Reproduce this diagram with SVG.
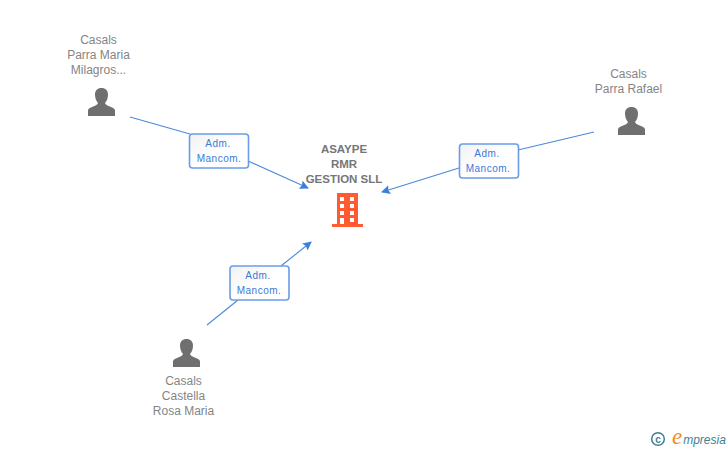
<svg xmlns="http://www.w3.org/2000/svg" width="728" height="450" viewBox="0 0 728 450">
<style>
text{font-family:"Liberation Sans",Arial,sans-serif;text-anchor:middle}
.n{font-size:12px;fill:#858585}
.t{font-size:11.500px;fill:#767676;font-weight:bold}
.l{font-size:10px;fill:#3a7ad8;letter-spacing:.5px}
.c{fill:none;stroke:#4a88e0;stroke-width:1.100}
.b{fill:url(#g);stroke:#6a9de6;stroke-width:1.600}
.p{fill:#6f6f6f}
</style>
<defs>
<linearGradient id="g" x1="0" y1="0" x2="1" y2="1"><stop offset="0" stop-color="#f1f1f1"/><stop offset=".5" stop-color="#fff"/></linearGradient>
<marker id="a" markerUnits="userSpaceOnUse" markerWidth="12" markerHeight="12" refX="8" refY="4.500" orient="auto"><path d="M0 0L9 4.500L0 9L1.500 4.500Z" fill="#3a7fe0"/></marker>
<path id="u" d="M-13.500 14V8.500C-13.500 5-4.500 4.500-3.500 1C-5.500-1-6.500-4.500-6.500-7.500C-6.500-11.500-4-14 0-14C4-14 6.500-11.500 6.500-7.500C6.500-4.500 5.500-1 3.500 1C4.500 4.500 13.500 5 13.500 8.500V14Z"/>
</defs>
<g id="connectors">
<path class="c" d="M130 117L190 134M248 161L308 188" marker-end="url(#a)"/>
<path class="c" d="M594 132L518 150M459 168L382 192" marker-end="url(#a)"/>
<path class="c" d="M207 325L238 300M281 266L311 242" marker-end="url(#a)"/>
</g>
<g id="node-parra-maria"><text class="n" x="98.500" y="44">Casals</text><text class="n" x="98.500" y="59">Parra Maria</text><text class="n" x="98.500" y="74">Milagros...</text><use href="#u" class="p" x="101.500" y="102"/></g>
<g id="node-parra-rafael"><text class="n" x="628.500" y="78">Casals</text><text class="n" x="628.500" y="93">Parra Rafael</text><use href="#u" class="p" x="631.500" y="121"/></g>
<g id="node-castella"><text class="n" x="183.500" y="385">Casals</text><text class="n" x="183.500" y="400">Castella</text><text class="n" x="183.500" y="415">Rosa Maria</text><use href="#u" class="p" x="186.500" y="353"/></g>
<g id="node-asaype"><text class="t" x="344" y="153">ASAYPE</text><text class="t" x="344" y="168">RMR</text><text class="t" x="344" y="183">GESTION SLL</text>
<path fill="#ff5a30" fill-rule="evenodd" d="M337 193H358V224H363V227H332V224H337ZM340 197V201H344V197ZM350 197V201H354V197ZM340 204V208H344V204ZM350 204V208H354V204ZM340 211V215H344V211ZM350 211V215H354V211ZM340 218V224H344V218ZM350 218V222H354V218Z"/></g>
<g id="label-1"><rect class="b" x="189.500" y="134" width="59" height="34" rx="3"/><text class="l" x="218" y="147">Adm.</text><text class="l" x="219" y="162">Mancom.</text></g>
<g id="label-2"><rect class="b" x="459.500" y="144" width="59" height="34" rx="3"/><text class="l" x="487" y="157">Adm.</text><text class="l" x="488" y="172">Mancom.</text></g>
<g id="label-3"><rect class="b" x="230" y="266" width="59" height="34" rx="3"/><text class="l" x="258" y="279">Adm.</text><text class="l" x="259" y="294">Mancom.</text></g>
<g id="logo"><circle cx="658" cy="439" r="6.300" fill="none" stroke="#3f7f93" stroke-width="1.500"/><text x="658" y="442.500" style="font-size:10px;fill:#3f7f93;font-weight:bold">c</text>
<text x="677" y="444" style="font-family:'Liberation Serif',serif;font-size:23px;font-style:italic;fill:#f28a1e">e</text><text x="704.500" y="444" style="font-size:12px;font-style:italic;fill:#3f7f93">mpresia</text></g>
</svg>
